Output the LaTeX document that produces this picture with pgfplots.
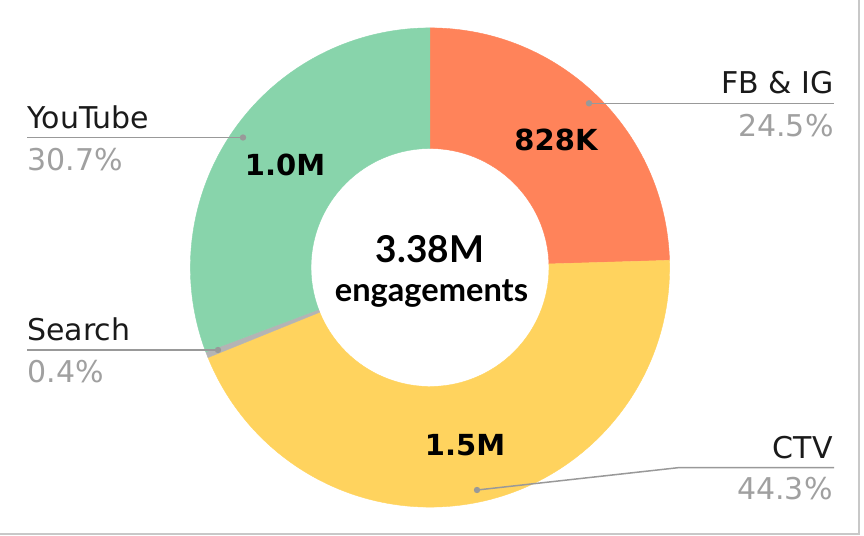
\documentclass[border=0pt]{standalone}
\usepackage{pgfplots}
\pgfplotsset{compat=1.18}
\usepackage{pgfplotstable}
\usepackage{fontspec}
\setmainfont{DejaVu Sans}
\newfontfamily\lato{Lato}

\definecolor{cFB}{HTML}{FF835A}
\definecolor{cCTV}{HTML}{FFD35E}
\definecolor{cSearch}{HTML}{B4B4B4}
\definecolor{cYT}{HTML}{88D4AB}
\definecolor{lab}{HTML}{1A1A1A}
\definecolor{pct}{HTML}{A0A0A0}
\definecolor{lead}{HTML}{999999}
\definecolor{frame}{HTML}{C8C8C8}

\pgfplotstableread{
label share
FB 24.5
CTV 44.3
Search 0.4
YouTube 30.7
}\shares

\pgfplotstablegetelem{0}{share}\of\shares \let\sA\pgfplotsretval
\pgfplotstablegetelem{1}{share}\of\shares \let\sB\pgfplotsretval
\pgfplotstablegetelem{2}{share}\of\shares \let\sC\pgfplotsretval
\pgfplotstablegetelem{3}{share}\of\shares \let\sD\pgfplotsretval
\pgfmathsetmacro\tot{\sA+\sB+\sC+\sD}
\pgfmathsetmacro\aA{90}
\pgfmathsetmacro\aB{\aA-\sA/\tot*360}
\pgfmathsetmacro\aC{\aB-\sB/\tot*360}
\pgfmathsetmacro\aD{\aC-\sC/\tot*360}
\pgfmathsetmacro\aE{\aD-\sD/\tot*360}

\newcommand\wedgeseg[3]{%
  \fill[#3,draw=#3,line width=0.2pt] ([shift={(#1:119.8pt)}]axis cs:430,267.5) arc[start angle=#1,end angle=#2,radius=119.8pt]
    -- ([shift={(#2:59.5pt)}]axis cs:430,267.5) arc[start angle=#2,end angle=#1,radius=59.5pt] -- cycle;}

\newcommand\lbl{\fontsize{15}{18}\selectfont}
\newcommand\vlbl{\fontsize{14.5}{17}\selectfont\bfseries}

\begin{document}
\begin{tikzpicture}
\useasboundingbox (0,0) rectangle (432pt,268pt);
\begin{axis}[
  at={(0,0)}, anchor=south west,
  scale only axis, width=432pt, height=268pt,
  xmin=0, xmax=864, ymin=0, ymax=536, y dir=reverse,
  axis lines=none, clip=false,
]
\wedgeseg{\aA}{\aB}{cFB}
\wedgeseg{\aB}{\aC}{cCTV}
\wedgeseg{\aC}{\aD}{cSearch}
\wedgeseg{\aD}{\aE}{cYT}

% value labels
\node[anchor=base, inner sep=0, text=black] at (axis cs:556,150) {\vlbl 828K};
\node[anchor=base, inner sep=0, text=black] at (axis cs:285,175) {\vlbl 1.0M};
\node[anchor=base, inner sep=0, text=black] at (axis cs:465,455) {\vlbl 1.5M};

% center
\node[anchor=base, inner sep=0, text=black] at (axis cs:430,262) {\lato\bfseries\fontsize{18.5}{21}\selectfont 3.38M};
\node[anchor=base, inner sep=0, text=black] at (axis cs:431.5,301) {\lato\bfseries\fontsize{16.3}{19}\selectfont engagements};

% leader lines
\draw[lead, line width=0.75pt] (axis cs:589,103.3) -- (axis cs:834,103.3);
\fill[lead] (axis cs:589,103.3) circle[radius=1.6pt];
\draw[lead, line width=0.75pt] (axis cs:243,137.5) -- (axis cs:27,137.5);
\fill[lead] (axis cs:243,137.5) circle[radius=1.6pt];
\draw[lead, line width=0.75pt] (axis cs:218,350) -- (axis cs:27,350);
\fill[lead] (axis cs:218,350) circle[radius=1.6pt];
\draw[lead, line width=0.75pt] (axis cs:477,490) -- (axis cs:678,467.7) -- (axis cs:834,467.7);
\fill[lead] (axis cs:477,490) circle[radius=1.6pt];

% category labels
\node[anchor=base east, inner sep=0, text=lab] at (axis cs:834,93) {\lbl FB \& IG};
\node[anchor=base east, inner sep=0, text=pct] at (axis cs:834,136) {\lbl 24.5\%};
\node[anchor=base west, inner sep=0, text=lab] at (axis cs:27,128) {\lbl YouTube};
\node[anchor=base west, inner sep=0, text=pct] at (axis cs:27,170) {\lbl 30.7\%};
\node[anchor=base west, inner sep=0, text=lab] at (axis cs:27,340) {\lbl Search};
\node[anchor=base west, inner sep=0, text=pct] at (axis cs:27,382) {\lbl 0.4\%};
\node[anchor=base east, inner sep=0, text=lab] at (axis cs:833,458) {\lbl CTV};
\node[anchor=base east, inner sep=0, text=pct] at (axis cs:833,499) {\lbl 44.3\%};

% frame
\draw[frame, line width=0.7pt] (axis cs:0,534) -- (axis cs:859,534) -- (axis cs:859,0);
\end{axis}
\end{tikzpicture}
\end{document}
